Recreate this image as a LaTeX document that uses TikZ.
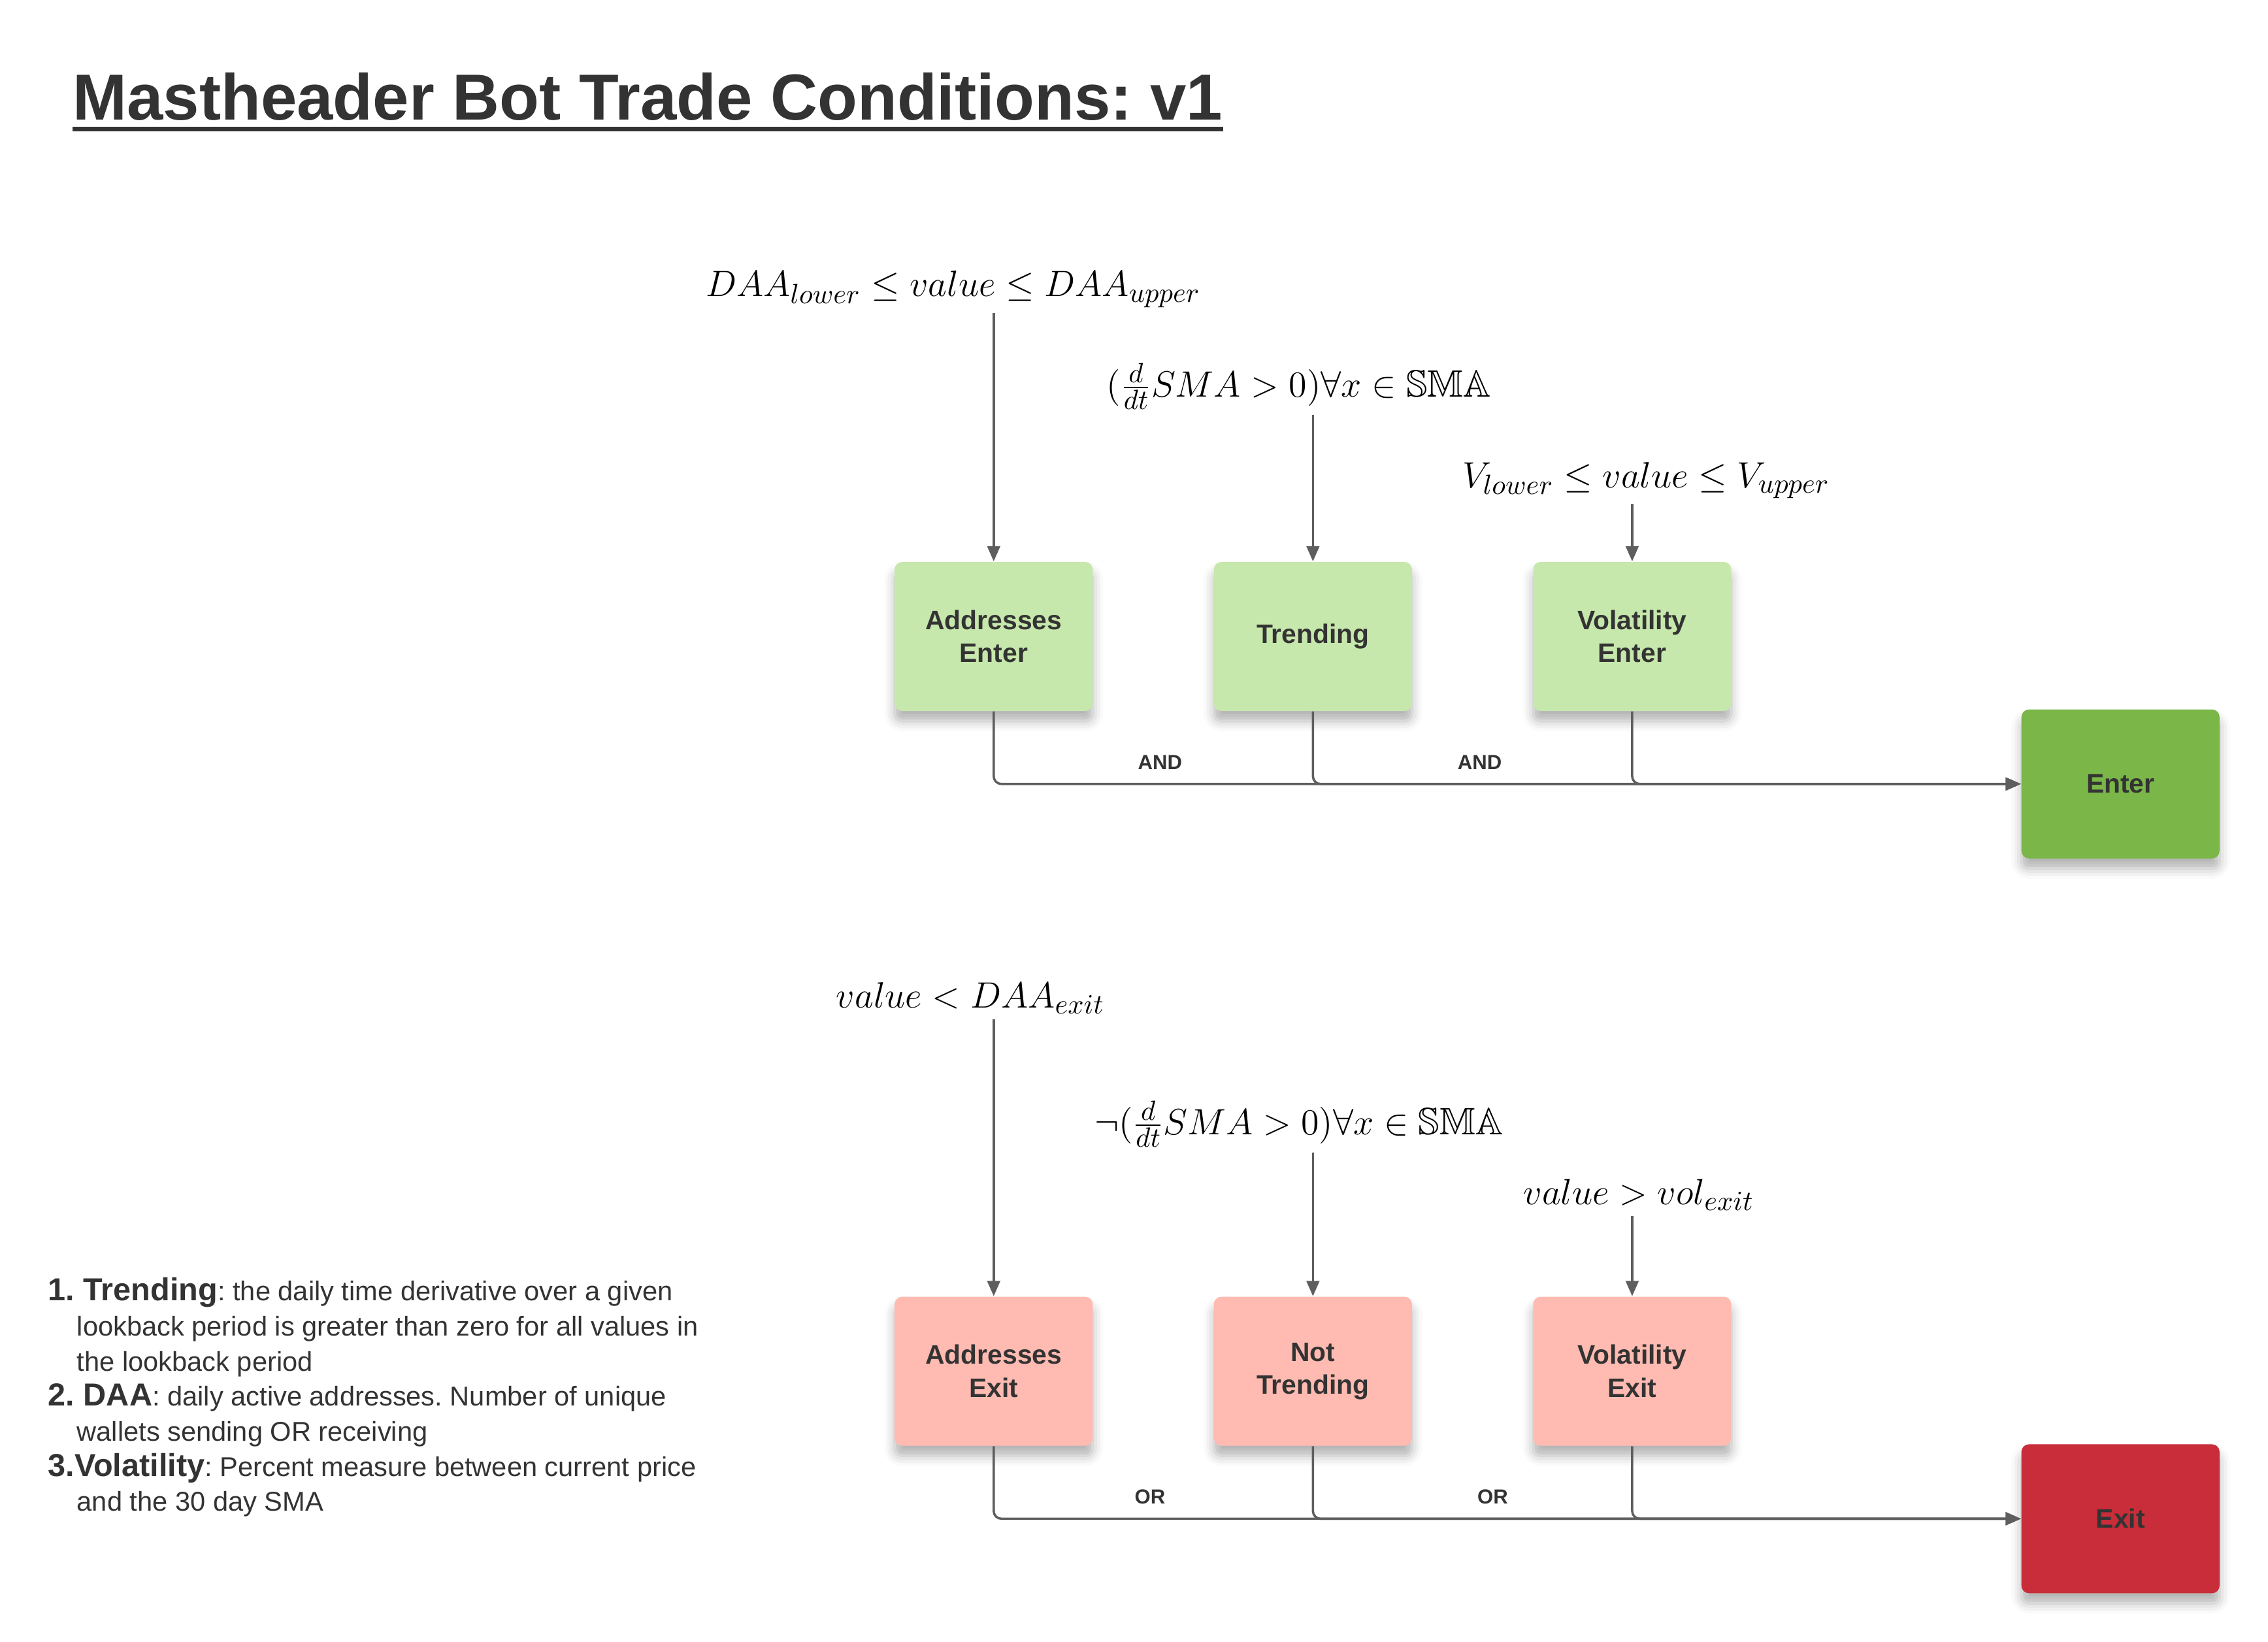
\documentclass[tikz,border=0pt]{standalone}
\usepackage{fontspec}
\setmainfont{Liberation Sans}
\usepackage{amssymb}
\usetikzlibrary{positioning,arrows.meta,shadows.blur}
\definecolor{ink}{RGB}{51,51,51}
\definecolor{wire}{RGB}{94,94,94}
\definecolor{okpale}{RGB}{199,232,172}
\definecolor{okdeep}{RGB}{122,182,72}
\definecolor{nopale}{RGB}{255,187,177}
\definecolor{nodeep}{RGB}{201,45,57}
\newcommand\kw[1]{{\fontsize{12.5}{13.8}\selectfont\bfseries #1}}

\begin{document}
\frenchspacing
\begin{tikzpicture}[node distance=1.66cm,
  bx/.style={rounded corners=3pt,minimum width=2.74cm,minimum height=2.06cm,
             align=center,font=\fontsize{10.5}{13}\selectfont\bfseries,text=ink,
             blur shadow={shadow xshift=0pt,shadow yshift=-4pt,shadow blur radius=4pt,shadow opacity=30}},
  fm/.style={font=\fontsize{15}{18}\selectfont,inner sep=2pt},
  lbl/.style={font=\fontsize{8}{9}\selectfont\bfseries,text=ink,inner sep=1pt},
  a/.style={-{Triangle[length=6pt,width=5pt]},wire,line width=0.9pt},
  j/.style={a,rounded corners=3pt}]
  \useasboundingbox (0,0) rectangle (31.36,-22.7);
  % title
  \node[font=\fontsize{25.6}{30}\selectfont\bfseries,text=ink,inner sep=0pt,anchor=base west] (title) at (1.0,-1.66) {Mastheader Bot Trade Conditions: v1};
  \draw[ink,line width=1.7pt] ([yshift=-3.5pt]title.base west) -- ([yshift=-3.5pt]title.base east);

  % enter conditions
  \node[bx,fill=okpale] (ae) at (13.74,-8.8) {Addresses\\Enter};
  \node[bx,fill=okpale,right=of ae] (tr) {Trending};
  \node[bx,fill=okpale,right=of tr] (ve) {Volatility\\Enter};
  \node[bx,fill=okdeep] (en) at (29.32,-10.84) {Enter};
  \node[fm] (f1) at (13.18,-4.0) {$DAA_{lower} \leq value \leq DAA_{upper}$};
  \node[fm] (f2) at (17.96,-5.34) {$(\frac{d}{dt}SMA > 0)\forall x \in \mathbb{SMA}$};
  \node[fm] (f3) at (22.76,-6.64) {$V_{lower} \leq value \leq V_{upper}$};
  \draw[a] (f1.south -| ae.north) -- (ae.north);
  \draw[a] (f2.south -| tr.north) -- (tr.north);
  \draw[a] (f3.south -| ve.north) -- (ve.north);
  \draw[j] (ae.south) |- (en.west);
  \draw[j] (tr.south) |- (en.west);
  \draw[j] (ve.south) |- (en.west);
  \node[lbl] (and1) at (16.04,-10.54) {AND};
  \node[lbl] (and2) at (20.46,-10.54) {AND};

  % exit conditions
  \node[bx,fill=nopale] (ax) at (13.74,-18.96) {Addresses\\Exit};
  \node[bx,fill=nopale,right=of ax] (nt) {Not\\Trending};
  \node[bx,fill=nopale,right=of nt] (vx) {Volatility\\Exit};
  \node[bx,fill=nodeep] (ex) at (29.32,-21.0) {Exit};
  \node[fm] (e1) at (13.42,-13.8) {$value < DAA_{exit}$};
  \node[fm] (e2) at (17.96,-15.54) {$\neg(\frac{d}{dt}SMA > 0)\forall x \in \mathbb{SMA}$};
  \node[fm] (e3) at (22.66,-16.52) {$value > vol_{exit}$};
  \draw[a] (e1.south -| ax.north) -- (ax.north);
  \draw[a] (e2.south -| nt.north) -- (nt.north);
  \draw[a] (e3.south -| vx.north) -- (vx.north);
  \draw[j] (ax.south) |- (ex.west);
  \draw[j] (nt.south) |- (ex.west);
  \draw[j] (vx.south) |- (ex.west);
  \node[lbl] (or1) at (15.9,-20.7) {OR};
  \node[lbl] (or2) at (20.64,-20.7) {OR};

  % notes
  \node[anchor=north west,align=left,inner sep=0pt,text=ink,font=\fontsize{10.7}{13.8}\selectfont] (notes) at (0.66,-17.66) {%
    \kw{1. Trending}: the daily time derivative over a given\\
    \hspace*{11.3pt}lookback period is greater than zero for all values in\\
    \hspace*{11.3pt}the lookback period\\
    \kw{2. DAA}: daily active addresses. Number of unique\\
    \hspace*{11.3pt}wallets sending OR receiving\\
    \kw{3.Volatility}: Percent measure between current price\\
    \hspace*{11.3pt}and the 30 day SMA};
\end{tikzpicture}
\end{document}
